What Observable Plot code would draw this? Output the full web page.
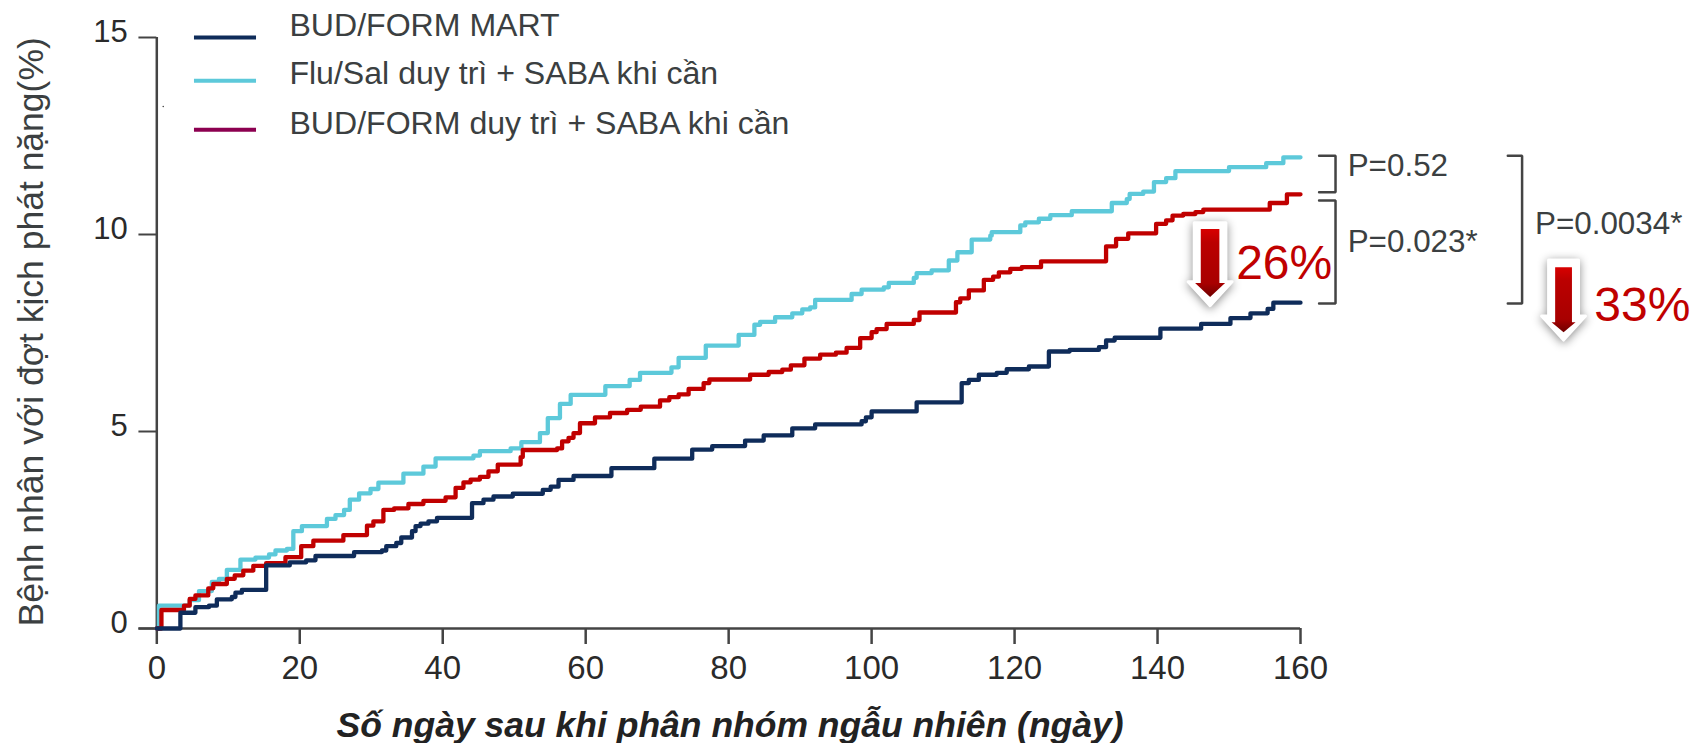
<!DOCTYPE html>
<html lang="vi">
<head>
<meta charset="utf-8">
<style>
html,body{margin:0;padding:0;background:#fff;overflow:hidden}
svg{display:block}
</style>
<script src="https://cdn.jsdelivr.net/npm/d3@7"></script>
<script src="https://cdn.jsdelivr.net/npm/@observablehq/plot@0.6"></script>
</head>
<body>
<div id="chart"></div>
<script>
const xTicks = [0,20,40,60,80,100,120,140,160];
const yTicks = [0,5,10,15];

const martDays = [0,3.3,5.4,7.3,8.4,10.5,11,11.9,15.3,18.6,20.9,22.2,27.6,31.5,32.1,33.5,34.2,35.7,36.2,36.9,38,39.2,44.1,45.7,47.1,49.8,54,55.1,56.2,58.3,63.6,69.6,74.9,77.7,82.3,84.9,88.9,92.1,98.6,99.2,100,106.3,112.6,113.6,115,117.5,118.9,122,124.8,127.7,131.8,132.8,134,140.4,146.1,150.2,153,155.4,156.2,160];
const martValues = [0,0.4,0.54,0.58,0.74,0.8,0.91,0.98,1.6,1.68,1.73,1.84,1.94,1.98,2.09,2.17,2.31,2.47,2.6,2.66,2.72,2.81,3.18,3.27,3.35,3.42,3.52,3.6,3.77,3.87,4.07,4.31,4.54,4.63,4.77,4.9,5.08,5.18,5.26,5.36,5.51,5.74,6.23,6.31,6.44,6.49,6.58,6.65,7.03,7.07,7.14,7.31,7.38,7.61,7.73,7.88,8,8.11,8.27,8.27];

const fluDays = [0,0.3,4.6,5.9,7.7,8.7,9.8,11.7,13.8,15.7,16.6,18.2,19.1,20.3,23.8,25,26.2,27,28.3,29.9,31,34.5,37.3,39,44.3,45.2,49.5,51,53.6,54.7,56.4,57.9,62.75,66.15,67.6,72,73,76.8,81.4,83.6,84.4,86.5,88.9,90.3,91.4,92.1,97.2,98.6,101.7,102.4,105.9,106.3,108.4,110.8,112,114,116.6,116.8,120.8,121.5,123.4,125,128,133.6,135.7,136.1,138,139.5,141.2,142.5,150,155.2,157.6,160];
const fluValues = [0,0.58,0.72,0.95,1.18,1.26,1.49,1.75,1.8,1.88,1.98,2.02,2.47,2.6,2.78,2.88,3.01,3.27,3.43,3.54,3.7,3.93,4.11,4.32,4.39,4.5,4.57,4.73,4.96,5.34,5.7,5.93,6.15,6.31,6.49,6.63,6.87,7.18,7.45,7.71,7.78,7.9,8,8.1,8.15,8.34,8.49,8.6,8.66,8.77,8.9,9.02,9.09,9.34,9.55,9.87,9.97,10.06,10.23,10.31,10.4,10.49,10.59,10.8,10.9,11.03,11.09,11.33,11.43,11.61,11.71,11.81,11.96,11.96];

const budDays = [0,0.65,3.8,4.6,5.4,7.2,7.9,9.8,10.9,12.1,13.5,15.3,18,20.2,21.9,26.1,29.4,30.3,31.7,33.2,35.2,37.3,40.4,41.8,42.9,43.9,45.2,46.4,47.7,50.9,51.2,56,56.7,57.6,58.3,59.2,61.3,63.4,65.8,67.7,70.4,71.7,73,74.4,76.5,77.3,83,85.6,87.5,88.7,90.6,92.8,95,96.5,98.4,100,100.7,102.1,105.9,106.7,111.8,112.4,113.6,115.7,117,117.8,119.4,121,123.7,132.8,134.2,135.9,139.8,141.2,142.1,143.6,145.3,146.4,155.7,158.1,160];
const budValues = [0,0.47,0.58,0.75,0.84,1.02,1.13,1.26,1.35,1.47,1.59,1.66,1.81,2.09,2.23,2.37,2.61,2.72,3.01,3.05,3.16,3.24,3.33,3.57,3.71,3.78,3.85,3.99,4.16,4.35,4.53,4.57,4.75,4.84,4.96,5.21,5.36,5.47,5.55,5.63,5.79,5.87,5.94,6.08,6.23,6.32,6.44,6.51,6.57,6.68,6.85,6.95,7,7.12,7.37,7.52,7.6,7.73,7.83,8.02,8.28,8.38,8.58,8.85,8.93,9.04,9.13,9.17,9.32,9.7,9.89,10.03,10.27,10.36,10.48,10.52,10.57,10.63,10.8,11.02,11.02];

const seriesNames = ["BUD/FORM MART","Flu/Sal duy trì + SABA khi cần","BUD/FORM duy trì + SABA khi cần"];
const legendColors = ["#0f2c5a","#5dc9da","#8c0050"];
const legendLineY = [15.0,13.9,12.66];
const legendTextY = [15.3,14.08,12.81];

const pLabels = [
  {t:"P=0.52",x:166.6,y:11.75},
  {t:"P=0.023*",x:166.6,y:9.8},
  {t:"P=0.0034*",x:192.8,y:10.28}
];
const pctLabels = [
  {t:"26%",x:151,y:9.27},
  {t:"33%",x:201.1,y:8.2}
];
const brackets = [
  {x0:162.6,x1:164.9,y0:12.0,y1:11.07},
  {x0:162.6,x1:164.9,y0:10.86,y1:8.25},
  {x0:189,x1:191,y0:12.0,y1:8.25}
];

const rows = (d,v) => d.map((x,i)=>({x,y:v[i]}));
const font = "'Liberation Sans', Arial, sans-serif";
const axisColor = "#444";

function blockArrow(shaftRatio, headLen){
  return {draw(c,l,r){
    const s = r*shaftRatio;
    c.moveTo(-s,0); c.lineTo(s,0); c.lineTo(s,-(l-headLen)); c.lineTo(r,-(l-headLen));
    c.lineTo(0,-l); c.lineTo(-r,-(l-headLen)); c.lineTo(-s,-(l-headLen)); c.closePath();
  }};
}
function arrow(x,y,lenW,rW,lenR,rR,yR,shaftW,shaftR,headW,headR){
  return [
    Plot.vector([{x,y}],{x:"x",y:"y",anchor:"start",rotate:180,length:lenW,r:rW,shape:blockArrow(shaftW,headW),
      fill:"#fff",stroke:"#fff",strokeWidth:3,strokeLinejoin:"round",imageFilter:"drop-shadow(0 2px 5px rgba(0,0,0,0.45))"}),
    Plot.vector([{x,y:yR}],{x:"x",y:"y",anchor:"start",rotate:180,length:lenR,r:rR,shape:blockArrow(shaftR,headR),
      fill:"url(#arrowGrad)",stroke:"none"})
  ];
}

const bracketPaths = brackets.flatMap((b,i)=>[
  {i,x:b.x0,y:b.y0},{i,x:b.x1,y:b.y0},{i,x:b.x1,y:b.y1},{i,x:b.x0,y:b.y1}
]);

const chart = Plot.plot({
  width:1694,height:743,
  marginLeft:156.3,marginRight:394,marginTop:37,marginBottom:115,
  style:{fontFamily:font,background:"#fff",overflow:"visible"},
  x:{domain:[0,160],range:[156.3,1300],axis:null},
  y:{domain:[0,15],range:[628,37],axis:null},
  marks:[
    Plot.ruleY([0],{x1:-2.5,x2:160,stroke:axisColor,strokeWidth:2.5}),
    Plot.ruleX([0],{y1:0,y2:15,stroke:axisColor,strokeWidth:2.5}),
    Plot.ruleY(yTicks,{x1:-2.5,x2:0,stroke:axisColor,strokeWidth:2}),
    Plot.axisX({ticks:xTicks,tickSize:16,tickPadding:11,fontSize:33,stroke:axisColor,strokeWidth:2.5,strokeOpacity:1,fill:"#2a2a2a",label:null,anchor:"bottom",tickFormat:d=>String(d)}),
    Plot.axisY({ticks:yTicks,tickSize:0,tickPadding:29,fontSize:31,fill:"#2a2a2a",label:null,anchor:"left",dy:-5,tickFormat:d=>String(d)}),
    Plot.dot([{x:0.9,y:13.25}],{x:"x",y:"y",r:0.8,fill:axisColor}),

    Plot.line(rows(fluDays,fluValues),{x:"x",y:"y",stroke:"#5dc9da",strokeWidth:4.3,curve:"step-after"}),
    Plot.line(rows(budDays,budValues),{x:"x",y:"y",stroke:"#c00000",strokeWidth:4.3,curve:"step-after"}),
    Plot.line(rows(martDays,martValues),{x:"x",y:"y",stroke:"#0f2c5a",strokeWidth:4.3,curve:"step-after"}),

    Plot.ruleY(legendLineY,{x1:5.27,x2:13.95,stroke:(d,i)=>legendColors[i],strokeWidth:4}),
    Plot.text(seriesNames,{x:18.55,y:(d,i)=>legendTextY[i],text:d=>d,textAnchor:"start",fontSize:32.1,fill:"#3b3f41"}),

    Plot.text(["Bệnh nhân với đợt kịch phát nặng(%)"],{x:-17.5,y:7.53,text:d=>d,rotate:-90,fontSize:35.5,fill:"#3b3f41"}),
    Plot.text(["Số ngày sau khi phân nhóm ngẫu nhiên (ngày)"],{x:80.2,y:-2.47,text:d=>d,fontSize:35.5,fontWeight:"bold",fontStyle:"italic",fill:"#222"}),

    Plot.line(bracketPaths,{x:"x",y:"y",z:"i",stroke:axisColor,strokeWidth:2.5,strokeLinejoin:"miter"}),
    Plot.text(pLabels,{x:"x",y:"y",text:"t",textAnchor:"start",fontSize:31.4,fill:"#3b3f41"}),
    Plot.text(pctLabels,{x:"x",y:"y",text:"t",textAnchor:"start",fontSize:48,fill:"#c00000"}),

    ...arrow(147.35,10.3,83,22,68,15,10.14,0.72,0.62,24,14),
    ...arrow(196.8,9.35,80,22,65,12,9.17,0.68,0.7,24,10)
  ]
});

const svg = d3.select(chart);
const defs = svg.insert("defs",":first-child");
const g = defs.append("linearGradient").attr("id","arrowGrad").attr("x1",0).attr("y1",0).attr("x2",0).attr("y2",1);
g.append("stop").attr("offset","0%").attr("stop-color","#6e0000");
g.append("stop").attr("offset","20%").attr("stop-color","#a80000");
g.append("stop").attr("offset","80%").attr("stop-color","#bb0000");
g.append("stop").attr("offset","100%").attr("stop-color","#d80000");
document.getElementById("chart").appendChild(chart);
</script>
</body>
</html>
